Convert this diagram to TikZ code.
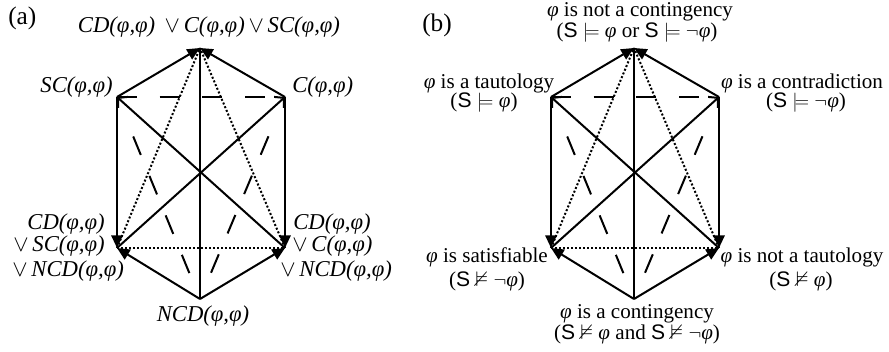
\documentclass[tikz,border=0pt]{standalone}
\usepackage{amssymb}
\usepackage{fontspec}
\setmainfont{Liberation Serif}
\newfontfamily\hvfont{Liberation Sans}
\usetikzlibrary{arrows.meta}
\newcommand{\ph}{\textit{φ}}
\newcommand{\Sy}{{\hvfont S}}
\newcommand{\hexedges}{%
  \draw[dashln] (L) -- (R);
  \draw[diagdash] (L) -- (B);
  \draw[diagdash] (R) -- (B);
  \draw[dotln] (LL) -- (LR);
  \draw[dotln] (LL) -- (T);
  \draw[dotln] (LR) -- (T);
  \draw[solidln] (B) -- (T);
  \draw[barbimp] (LR) -- (L);
  \draw[barbimp] (LL) -- (R);
  \draw[imp] (L) -- (T);
  \draw[imp] (R) -- (T);
  \draw[imp] (L) -- (LL);
  \draw[imp] (R) -- (LR);
  \draw[imp] (B) -- (LL);
  \draw[imp] (B) -- (LR);
}
\newcommand{\hexpoints}{%
  \coordinate (T) at (200,48);
  \coordinate (L) at (117,97);
  \coordinate (R) at (285,97);
  \coordinate (LL) at (117,248);
  \coordinate (LR) at (285,248);
  \coordinate (B) at (200,299);
}
\begin{document}
\begin{tikzpicture}[x=0.75pt,y=-0.75pt,
  font=\fontsize{15.8}{18}\selectfont,
  solidln/.style={line width=1.5pt},
  imp/.style={solidln,-{Triangle[length=9.5pt,width=8.5pt]}},
  barbimp/.style={solidln,-{Straight Barb[length=5pt,width=11pt]}},
  dotln/.style={line width=1.5pt,dash pattern=on 1.5pt off 1.5pt},
  dashln/.style={line width=1.5pt,dash pattern=on 15pt off 17pt},
  diagdash/.style={dashln,shorten <=32pt,shorten >=21pt},
  lbl/.style={inner sep=0pt,anchor=base},
  lblw/.style={inner sep=0pt,anchor=base west},
  lble/.style={inner sep=0pt,anchor=base east},
  ital/.style={font=\fontsize{17}{19}\selectfont\itshape},
  tag/.style={inner sep=0pt,anchor=base west,font=\fontsize{19}{21}\selectfont}]
\useasboundingbox (0,0) rectangle (889,352);

% ---------- (a) ----------
\begin{scope}[name prefix=a-]
  \hexpoints
  \hexedges
  \node[tag] (tag) at (8,25) {(a)};
  \node[lbl,ital] (top) at (209,33) {CD(φ,φ)\ \,$\vee$\,C(φ,φ)\,$\vee$\,SC(φ,φ)};
  \node[lble,ital] (sc) at (113,93) {SC(φ,φ)};
  \node[lblw,ital] (c) at (292,93) {C(φ,φ)};
  \node[lble,ital] (ll1) at (105,230) {CD(φ,φ)};
  \node[lble,ital] (ll2) at (105,252) {$\vee$\,SC(φ,φ)};
  \node[lblw,ital] (ll3) at (12,277) {$\vee$\,NCD(φ,φ)};
  \node[lblw,ital] (lr1) at (293,230) {CD(φ,φ)};
  \node[lblw,ital] (lr2) at (292,252) {$\vee$\,C(φ,φ)};
  \node[lblw,ital] (lr3) at (280,277) {$\vee$\,NCD(φ,φ)};
  \node[lbl,ital] (bot) at (203,322) {NCD(φ,φ)};
\end{scope}

% ---------- (b) ----------
\begin{scope}[shift={(434,0)},name prefix=b-]
  \hexpoints
  \hexedges
\end{scope}
\begin{scope}[name prefix=b-]
  \node[tag] (tag) at (422,32) {(b)};
  \node[lbl] (top1) at (640,17) {\ph{} is not a contingency};
  \node[lbl] (top2) at (637,38) {(\Sy{} $\models$ \ph{} or \Sy{} $\models$ $\neg$\ph)};
  \node[lbl] (l1) at (489,89) {\ph{} is a tautology};
  \node[lbl] (l2) at (484,108) {(\Sy{} $\models$ \ph)};
  \node[lbl] (r1) at (802,89) {\ph{} is a contradiction};
  \node[lbl] (r2) at (806,108) {(\Sy{} $\models$ $\neg$\ph)};
  \node[lbl] (ll1) at (487,263) {\ph{} is satisfiable};
  \node[lbl] (ll2) at (487,287) {(\Sy{} $\nvDash$ $\neg$\ph)};
  \node[lbl] (lr1) at (802,263) {\ph{} is not a tautology};
  \node[lbl] (lr2) at (801,287) {(\Sy{} $\nvDash$ \ph)};
  \node[lbl] (b1) at (637,319) {\ph{} is a contingency};
  \node[lbl] (b2) at (637,340) {(\Sy{} $\nvDash$ \ph{} and \Sy{} $\nvDash$ $\neg$\ph)};
\end{scope}
\end{tikzpicture}
\end{document}
